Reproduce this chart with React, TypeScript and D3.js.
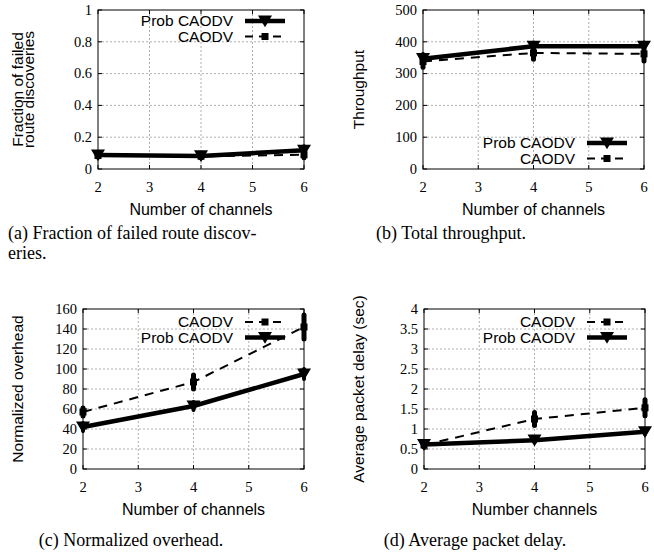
import React from "react";
import * as d3 from "d3";

// x values shared by all panels
const channels = [2, 4, 6];
const xTicks = [2, 3, 4, 5, 6];

// (a) fraction of failed route discoveries
const failedProb = [0.088, 0.082, 0.118];
const failedProbErr = [0.015, 0.015, 0.025];
const failedCaodv = [0.085, 0.08, 0.09];
const failedCaodvErr = [0.01, 0.01, 0.02];
const failedTicks = [0, 0.2, 0.4, 0.6, 0.8, 1];

// (b) total throughput
const thrProb = [347, 386, 386];
const thrProbErr = [15, 12, 12];
const thrCaodv = [338, 365, 362];
const thrCaodvErr = [18, 20, 22];
const thrTicks = [0, 100, 200, 300, 400, 500];

// (c) normalized overhead
const ovhProb = [42, 63, 95];
const ovhProbErr = [4, 4, 5];
const ovhCaodv = [57, 87, 142];
const ovhCaodvErr = [4, 7, 12];
const ovhTicks = [0, 20, 40, 60, 80, 100, 120, 140, 160];

// (d) average packet delay
const delProb = [0.61, 0.72, 0.93];
const delProbErr = [0.06, 0.06, 0.06];
const delCaodv = [0.6, 1.25, 1.53];
const delCaodvErr = [0.05, 0.16, 0.2];
const delTicks = [0, 0.5, 1, 1.5, 2, 2.5, 3, 3.5, 4];

const SANS = "'Liberation Sans', Arial, sans-serif";
const SERIF = "'Liberation Serif', 'Times New Roman', serif";

type Series = { name: string; values: number[]; err: number[]; kind: "prob" | "caodv" };

type PanelProps = {
  left: number; right: number; top: number; bottom: number;
  yTicks: number[];
  series: Series[];
  yTitle: string[]; yTitleX: number;
  xTitle: string;
  legendTextX: number; legendY: number;
};

function Marker({ kind, x, y }: { kind: string; x: number; y: number }) {
  if (kind === "prob") {
    const s = 7;
    return <path d={`M${x - s},${y - s * 0.8}L${x + s},${y - s * 0.8}L${x},${y + s * 0.9}Z`} fill="#000" />;
  }
  return <rect x={x - 3.5} y={y - 3.5} width={7} height={7} fill="#000" />;
}

function Panel(p: PanelProps) {
  const x = d3.scaleLinear().domain([2, 6]).range([p.left, p.right]);
  const y = d3.scaleLinear().domain([p.yTicks[0], p.yTicks[p.yTicks.length - 1]]).range([p.bottom, p.top]);
  const line = d3.line<number>().x((_, i) => x(channels[i])).y((d) => y(d));
  const titleMid = (p.top + p.bottom) / 2;

  return (
    <g>
      {/* grid */}
      {xTicks.slice(1, -1).map((t) => (
        <line key={"gx" + t} x1={x(t)} x2={x(t)} y1={p.top} y2={p.bottom} stroke="#999" strokeWidth={0.8} strokeDasharray="2,2" />
      ))}
      {p.yTicks.slice(1, -1).map((t) => (
        <line key={"gy" + t} x1={p.left} x2={p.right} y1={y(t)} y2={y(t)} stroke="#999" strokeWidth={0.8} strokeDasharray="2,2" />
      ))}
      {/* ticks */}
      {p.yTicks.map((t) => (
        <g key={"ty" + t}>
          <line x1={p.left} x2={p.left + 4} y1={y(t)} y2={y(t)} stroke="#000" />
          <line x1={p.right} x2={p.right - 4} y1={y(t)} y2={y(t)} stroke="#000" />
          <text x={p.left - 6} y={y(t)} dy="0.33em" textAnchor="end" fontFamily={SERIF} fontSize={14.5}>{String(t)}</text>
        </g>
      ))}
      {xTicks.map((t) => (
        <g key={"tx" + t}>
          <line x1={x(t)} x2={x(t)} y1={p.bottom} y2={p.bottom - 4} stroke="#000" />
          <line x1={x(t)} x2={x(t)} y1={p.top} y2={p.top + 4} stroke="#000" />
          <text x={x(t)} y={p.bottom + 23} textAnchor="middle" fontFamily={SERIF} fontSize={14.5}>{t}</text>
        </g>
      ))}
      <rect x={p.left} y={p.top} width={p.right - p.left} height={p.bottom - p.top} fill="none" stroke="#000" strokeWidth={1} />
      {/* series */}
      {p.series.map((s) => (
        <g key={s.name}>
          <path d={line(s.values) || ""} fill="none" stroke="#000"
            strokeWidth={s.kind === "prob" ? 4.5 : 2}
            strokeDasharray={s.kind === "prob" ? undefined : "9,7"} />
          {s.values.map((v, i) => (
            <g key={i}>
              <line x1={x(channels[i])} x2={x(channels[i])} y1={y(v - s.err[i])} y2={y(v + s.err[i])}
                stroke="#000" strokeWidth={s.kind === "prob" ? 4 : 5} strokeLinecap="round" />
              <Marker kind={s.kind} x={x(channels[i])} y={y(v)} />
            </g>
          ))}
        </g>
      ))}
      {/* legend */}
      {p.series.map((s, i) => {
        const ly = p.legendY + i * 15.5;
        const x0 = p.legendTextX + 12;
        const x1 = x0 + 40;
        return (
          <g key={"lg" + s.name}>
            <text x={p.legendTextX} y={ly} dy="0.35em" textAnchor="end" fontFamily={SANS} fontSize={15.5}>{s.name}</text>
            <line x1={x0} x2={x1} y1={ly} y2={ly} stroke="#000"
              strokeWidth={s.kind === "prob" ? 4.5 : 2} strokeDasharray={s.kind === "prob" ? undefined : "8,6"} />
            <Marker kind={s.kind} x={(x0 + x1) / 2} y={ly} />
          </g>
        );
      })}
      {/* titles */}
      {p.yTitle.map((t, i) => (
        <text key={t} transform={`translate(${p.yTitleX + i * 11},${titleMid}) rotate(-90)`} textAnchor="middle"
          dy="0.35em" fontFamily={SANS} fontSize={15.5}>{t}</text>
      ))}
      <text x={(p.left + p.right) / 2} y={p.bottom + 46} textAnchor="middle" fontFamily={SANS} fontSize={16}>{p.xTitle}</text>
    </g>
  );
}

export default function App() {
  const mk = (pv: number[], pe: number[], cv: number[], ce: number[], probFirst: boolean): Series[] => {
    const prob: Series = { name: "Prob CAODV", values: pv, err: pe, kind: "prob" };
    const caodv: Series = { name: "CAODV", values: cv, err: ce, kind: "caodv" };
    return probFirst ? [prob, caodv] : [caodv, prob];
  };
  return (
    <svg width={654} height={560} style={{ position: "absolute", left: 0, top: 0, background: "#fff" }}>
      <Panel left={98} right={304} top={10} bottom={169} yTicks={failedTicks}
        series={mk(failedProb, failedProbErr, failedCaodv, failedCaodvErr, true)}
        yTitle={["Fraction of failed", "route discoveries"]} yTitleX={18}
        xTitle="Number of channels" legendTextX={233} legendY={21} />
      <Panel left={423} right={644} top={10} bottom={169} yTicks={thrTicks}
        series={mk(thrProb, thrProbErr, thrCaodv, thrCaodvErr, true)}
        yTitle={["Throughput"]} yTitleX={359}
        xTitle="Number of channels" legendTextX={575} legendY={143} />
      <Panel left={83} right={304} top={309} bottom={469} yTicks={ovhTicks}
        series={mk(ovhProb, ovhProbErr, ovhCaodv, ovhCaodvErr, false)}
        yTitle={["Normalized overhead"]} yTitleX={18}
        xTitle="Number of channels" legendTextX={233} legendY={322} />
      <Panel left={424} right={645} top={309} bottom={469} yTicks={delTicks}
        series={mk(delProb, delProbErr, delCaodv, delCaodvErr, false)}
        yTitle={["Average packet delay (sec)"]} yTitleX={359}
        xTitle="Number channels" legendTextX={575} legendY={322} />
      {/* captions */}
      <text x={8} y={239} fontFamily={SERIF} fontSize={18}>(a) Fraction of failed route discov-</text>
      <text x={8} y={259} fontFamily={SERIF} fontSize={18}>eries.</text>
      <text x={451} y={239} textAnchor="middle" fontFamily={SERIF} fontSize={18}>(b) Total throughput.</text>
      <text x={131} y={546} textAnchor="middle" fontFamily={SERIF} fontSize={18}>(c) Normalized overhead.</text>
      <text x={475} y={546} textAnchor="middle" fontFamily={SERIF} fontSize={18}>(d) Average packet delay.</text>
    </svg>
  );
}
